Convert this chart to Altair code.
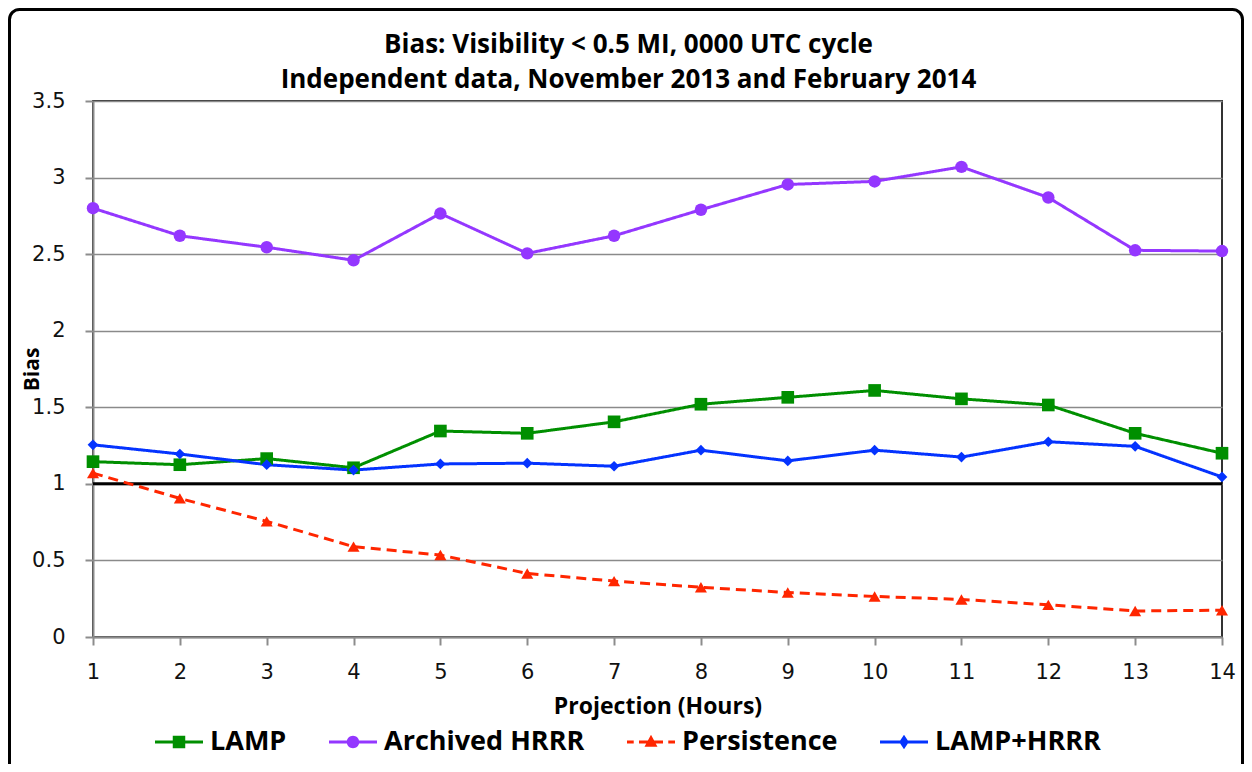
import altair as alt
import pandas as pd

# ---------------- data ----------------
hours = list(range(1, 15))
series_names = ["LAMP", "Archived HRRR", "Persistence", "LAMP+HRRR"]
lamp = [1.145, 1.125, 1.165, 1.105, 1.345, 1.33, 1.405, 1.52, 1.565, 1.61, 1.555, 1.515, 1.33, 1.20]
archived_hrrr = [2.80, 2.62, 2.545, 2.46, 2.765, 2.505, 2.62, 2.79, 2.955, 2.975, 3.07, 2.87, 2.525, 2.52]
persistence = [1.07, 0.905, 0.755, 0.59, 0.535, 0.415, 0.365, 0.325, 0.29, 0.265, 0.245, 0.21, 0.17, 0.175]
lamp_hrrr = [1.255, 1.195, 1.125, 1.09, 1.13, 1.135, 1.115, 1.22, 1.15, 1.22, 1.175, 1.275, 1.245, 1.045]
y_tick_values = [0, 0.5, 1, 1.5, 2, 2.5, 3, 3.5]
x_tick_values = hours
reference_bias = [1]
title_lines = ["Bias: Visibility < 0.5 MI, 0000 UTC cycle",
               "Independent data, November 2013 and February 2014"]

# ---------------- styles ----------------
series_colors = ["#008F00", "#9437FF", "#FF2600", "#0433FF"]
marker_shapes = ["square", "circle", "triangle-up", "diamond"]
marker_sizes = [160, 155, 145, 115]
dash_patterns = [[1, 0], [1, 0], [10, 6], [1, 0]]
LINE = "M-1,-0.0625H1V0.0625H-1Z"
legend_paths = [
    LINE + " M-0.26,-0.26H0.26V0.26H-0.26Z",
    LINE + " M-0.26,0A0.26,0.26,0,1,1,0.26,0A0.26,0.26,0,1,1,-0.26,0Z",
    "M-1,-0.0625H-0.72V0.0625H-1Z M-0.5,-0.0625H0.5V0.0625H-0.5Z "
    "M0.72,-0.0625H1V0.0625H0.72Z M0,-0.3L0.27,0.2H-0.27Z",
    LINE + " M0,-0.3L0.2,0L0,0.3L-0.2,0Z",
]

rows = []
for name, vals in zip(series_names, [lamp, archived_hrrr, persistence, lamp_hrrr]):
    for h, v in zip(hours, vals):
        rows.append({"series": name, "hour": h, "bias": v})
df = pd.DataFrame(rows)

W, H = 1129, 536

x_scale = alt.Scale(domain=[1, 14], nice=False, zero=False)
y_scale = alt.Scale(domain=[0, 3.5], nice=False, zero=True)
color_scale = alt.Scale(domain=series_names, range=series_colors)
shape_scale = alt.Scale(domain=series_names, range=legend_paths)

x_axis = alt.Axis(values=x_tick_values, format="d", title="Projection (Hours)",
                  grid=False, labelFlush=False, labelOverlap=False, labelPadding=16,
                  titleX=W / 2, titleY=76, titleBaseline="alphabetic", titleAlign="center",
                  titleFontSize=23)
y_axis = alt.Axis(values=y_tick_values, format="~g", title="Bias", grid=True,
                  labelPadding=20, labelOverlap=False,
                  titleX=-55, titleY=H / 2, titleBaseline="alphabetic", titleAlign="center",
                  titleAngle=-90, titleFontSize=21)

X = alt.X("hour:Q", scale=x_scale, axis=x_axis)
Y = alt.Y("bias:Q", scale=y_scale, axis=y_axis)

# outer decorative frame
frame = alt.Chart(pd.DataFrame({"f": [0]})).mark_rect(
    fill="white", fillOpacity=0, stroke="black", strokeWidth=3, cornerRadius=10
).encode(x=alt.value(-83.5), x2=alt.value(W + 20.5), y=alt.value(-91.5), y2=alt.value(H + 200))

ref_rule = alt.Chart(pd.DataFrame({"bias": reference_bias})).mark_rule(
    color="black", strokeWidth=3
).encode(y=Y)

line_layers = []
point_layers = []
for name, col, shp, sz, dash in zip(series_names, series_colors, marker_shapes, marker_sizes, dash_patterns):
    base = alt.Chart(df).transform_filter(alt.datum.series == name)
    line_layers.append(base.mark_line(strokeWidth=3, color=col, strokeDash=dash).encode(x=X, y=Y))
    point_layers.append(base.mark_point(shape=shp, filled=True, size=sz, opacity=1, color=col).encode(x=X, y=Y))

legend = alt.Legend(
    title=None, orient="none", legendX=62, legendY=617, direction="horizontal",
    symbolSize=2304, symbolStrokeWidth=0, symbolOpacity=1,
    labelFont="Open Sans", labelFontSize=27, labelFontWeight="bold", labelColor="black",
    labelOffset=7, columnPadding=42, padding=0, labelLimit=0,
)
legend_df = pd.DataFrame({"series": series_names, "hour": [None] * 4, "bias": [None] * 4})
legend_layer = alt.Chart(legend_df).mark_point(filled=True, opacity=1).encode(
    x=X, y=Y,
    color=alt.Color("series:N", scale=color_scale, legend=legend),
    shape=alt.Shape("series:N", scale=shape_scale, legend=legend),
)

chart = alt.layer(frame, ref_rule, *line_layers, *point_layers, legend_layer).properties(
    width=W, height=H,
    background="white",
    autosize=alt.AutoSizeParams(type="none"),
    padding={"left": 85, "top": 93, "right": 22, "bottom": 127},
    title=alt.Title(text=title_lines, font="Open Sans", fontSize=26, fontWeight="bold",
                    color="black", anchor="middle", frame="group", dx=-29, offset=0, dy=85,
                    lineHeight=35),
).configure_view(
    stroke="#333333", strokeWidth=2
).configure_axis(
    labelFont="DejaVu Sans", labelFontSize=21, labelColor="#111111",
    tickColor="#8c8c8c", tickSize=8, tickWidth=2,
    domainColor="#8c8c8c", domainWidth=2,
    gridColor="#8a8a8a", gridWidth=1.6,
    titleFont="Open Sans", titleFontWeight="bold", titleColor="black",
)

chart.save("out.html", embed_options={"renderer": "svg", "actions": False})
